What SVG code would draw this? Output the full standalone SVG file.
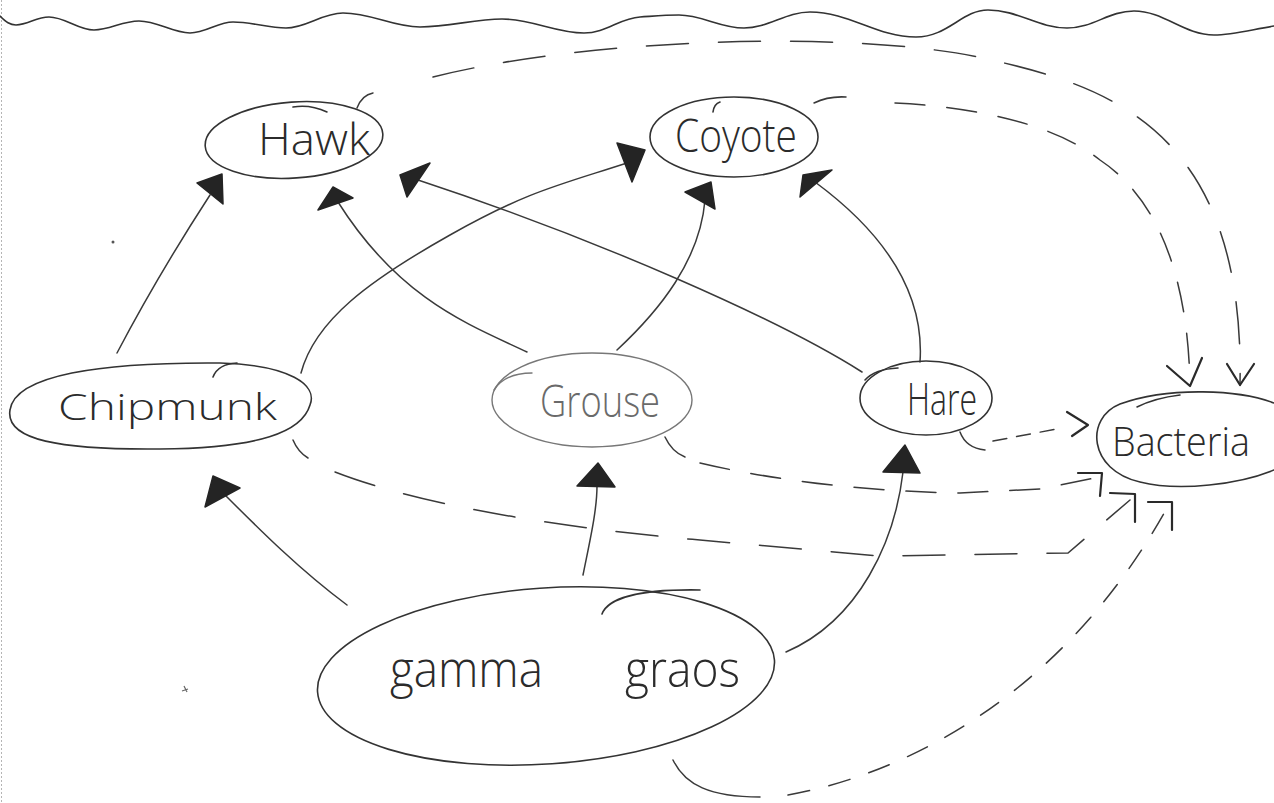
<svg xmlns="http://www.w3.org/2000/svg" width="1274" height="803" viewBox="0 0 1274 803">
  <style>
    .shape { fill: none; stroke: #333; stroke-width: 1.6; stroke-linecap: round; }
    .faint { stroke: #777; stroke-width: 1.4; }
    .lbl { font-family: "Open Sans", "Liberation Sans", sans-serif; font-weight: 300; fill: #2b2b2b; }
    .lbl-faint { fill: #6a6a6a; }
    .edge { fill: none; stroke: #3a3a3a; stroke-width: 1.5; stroke-linecap: round; }
    .dash { stroke-dasharray: 42 30; }
    .dash-s { stroke-dasharray: 30 22; }
    .head { fill: #242424; stroke: #242424; stroke-width: 1.5; stroke-linejoin: round; }
    .open { fill: none; stroke: #2a2a2a; stroke-width: 2.2; stroke-linecap: round; stroke-linejoin: round; }
  </style>

  <rect width="1274" height="803" fill="#ffffff"/>
  <!-- paper edge -->
  <line x1="1.5" y1="0" x2="1.5" y2="803" stroke="#b5b5b5" stroke-width="1" stroke-dasharray="2 2"/>

  <!-- wavy horizon -->
  <path class="shape" d="M 0,16 C 6,22 10,25 16,25 C 28,25 36,17 49,17 C 65,17 78,30 94,30 C 110,30 122,21 139,21 C 158,21 172,33 190,33 C 206,33 218,22 233,22 C 252,22 268,28 286,28 C 306,28 322,13 343,13 C 372,13 392,27 420,27 C 450,27 474,19 502,19 C 532,19 556,33 584,33 C 606,33 620,18 640,17 C 655,16 665,15 679,15 C 702,15 720,28 744,28 C 768,28 786,12 810,12 C 850,12 876,37 916,37 C 948,37 962,10 988,10 C 1018,10 1038,28 1067,28 C 1094,28 1108,11 1134,11 C 1164,11 1184,35 1214,35 C 1232,35 1250,30 1274,26"/>

  <!-- stray pencil specks -->
  <circle cx="113" cy="242" r="1.5" fill="#555"/>
  <path d="M 184,686 l 3,6 M 182,691 l 6,-2" stroke="#666" stroke-width="1.2" fill="none"/>

  <!-- connectors -->
  <g id="connectors">
    <!-- solid feeding arrows -->
    <path class="edge" d="M 117,353 Q 158,275 210,195"/>
    <path class="edge" d="M 301,373 C 315,320 370,280 450,235 S 560,185 630,162"/>
    <path class="edge" d="M 527,352 C 470,325 400,300 338,202"/>
    <path class="edge" d="M 862,372 C 780,320 600,240 418,180"/>
    <path class="edge" d="M 617,350 C 660,310 700,260 705,200"/>
    <path class="edge" d="M 920,362 C 925,290 880,230 815,182"/>
    <path class="edge" d="M 347,605 C 300,570 260,530 225,495"/>
    <path class="edge" d="M 583,575 C 590,540 597,510 597,486"/>
    <path class="edge" d="M 786,652 C 860,620 895,540 903,472"/>

    <polygon class="head" points="197,183 222,174 223,204"/>
    <polygon class="head" points="318,210 333,187 353,198"/>
    <polygon class="head" points="400,175 430,163 407,197"/>
    <polygon class="head" points="617,143 645,150 632,182"/>
    <polygon class="head" points="685,192 711,182 715,209"/>
    <polygon class="head" points="800,197 803,175 832,170"/>
    <polygon class="head" points="205,507 213,476 240,488"/>
    <polygon class="head" points="577,486 598,463 615,487"/>
    <polygon class="head" points="883,472 905,445 920,473"/>

    <!-- decomposition arrows (dashed) -->
    <!-- Hawk to Bacteria -->
    <path class="edge" d="M 357,108 Q 362,95 373,93"/>
    <path class="edge dash" d="M 433,77 C 600,35 880,30 1000,62 C 1120,90 1245,140 1240,385"/>
    <path class="open" d="M 1227,364 L 1240,385 L 1254,364"/>
    <!-- Coyote to Bacteria -->
    <path class="edge" d="M 814,103 Q 828,96 846,97"/>
    <path class="edge dash-s" d="M 895,103 C 960,106 1050,120 1100,160 C 1160,200 1188,280 1190,385"/>
    <path class="open" d="M 1167,366 L 1190,386 L 1202,358"/>
    <!-- Hare to Bacteria -->
    <path class="edge" d="M 960,432 Q 966,448 985,450"/>
    <path class="edge" stroke-dasharray="14 10" d="M 993,441 L 1062,428"/>
    <path class="open" d="M 1067,412 L 1088,425 L 1072,436"/>
    <!-- Grouse to Bacteria -->
    <path class="edge" d="M 665,437 Q 672,452 685,457"/>
    <path class="edge dash-s" d="M 700,463 C 780,482 880,492 960,493 L 1040,489 L 1095,478"/>
    <path class="open" d="M 1078,473 L 1102,473 L 1100,496"/>
    <!-- Chipmunk to Bacteria -->
    <path class="edge" d="M 293,440 Q 298,452 308,458"/>
    <path class="edge dash" d="M 335,472 C 420,505 560,528 700,540 L 880,556 L 1068,553 L 1130,500"/>
    <path class="open" d="M 1110,493 L 1135,494 L 1135,522"/>
    <!-- gamma graos to Bacteria -->
    <path class="edge" d="M 673,760 C 685,785 710,797 760,797"/>
    <path class="edge" stroke-dasharray="22 20" d="M 788,795 C 900,775 1060,700 1167,508"/>
    <path class="open" d="M 1148,502 L 1172,502 L 1172,530"/>
  </g>

  <!-- nodes -->
  <g id="hawk">
    <ellipse class="shape" cx="294" cy="140" rx="89" ry="38" transform="rotate(-4 294 140)"/>
    <path class="shape" d="M 293,107 Q 310,104 327,112"/>
    <text class="lbl" x="258" y="155" font-size="44" textLength="112" lengthAdjust="spacingAndGlyphs">Hawk</text>
  </g>

  <g id="coyote">
    <ellipse class="shape" cx="734" cy="137" rx="84" ry="40"/>
    <path class="shape" d="M 713,112 Q 714,104 720,102"/>
    <text class="lbl" x="675" y="152" font-size="46" textLength="122" lengthAdjust="spacingAndGlyphs">Coyote</text>
  </g>

  <g id="chipmunk">
    <path class="shape" d="M 10,410 C 15,375 100,362 220,363 C 290,365 318,385 310,405 C 302,432 260,448 160,449 C 60,450 5,440 10,410 Z"/>
    <path class="shape" d="M 213,377 Q 218,364 237,363"/>
    <text class="lbl" x="58" y="420" font-size="36" textLength="219" lengthAdjust="spacingAndGlyphs">Chipmunk</text>
  </g>

  <g id="grouse">
    <ellipse class="shape faint" cx="592" cy="400" rx="100" ry="47"/>
    <path class="shape faint" d="M 494,390 Q 505,373 532,373"/>
    <text class="lbl lbl-faint" x="540" y="417" font-size="44" textLength="120" lengthAdjust="spacingAndGlyphs">Grouse</text>
  </g>

  <g id="hare">
    <ellipse class="shape" cx="926" cy="398" rx="66" ry="37"/>
    <path class="shape" d="M 865,380 Q 875,369 898,368"/>
    <text class="lbl" x="907" y="415" font-size="44" textLength="70" lengthAdjust="spacingAndGlyphs">Hare</text>
  </g>

  <g id="bacteria">
    <path class="shape" d="M 1274,403 C 1240,390 1170,386 1120,404 C 1085,418 1088,470 1140,482 C 1180,492 1240,484 1274,470"/>
    <path class="shape" d="M 1137,407 Q 1155,398 1180,395"/>
    <text class="lbl" x="1112" y="456" font-size="40" textLength="138" lengthAdjust="spacingAndGlyphs">Bacteria</text>
  </g>

  <g id="gamma-graos">
    <ellipse class="shape" cx="546" cy="676" rx="229" ry="88" transform="rotate(-4 546 676)"/>
    <path class="shape" d="M 602,614 C 608,598 640,589 700,590"/>
    <text class="lbl" x="390" y="687" font-size="50" textLength="153" lengthAdjust="spacingAndGlyphs">gamma</text>
    <text class="lbl" x="625" y="687" font-size="50" textLength="115" lengthAdjust="spacingAndGlyphs">graos</text>
  </g>
</svg>
